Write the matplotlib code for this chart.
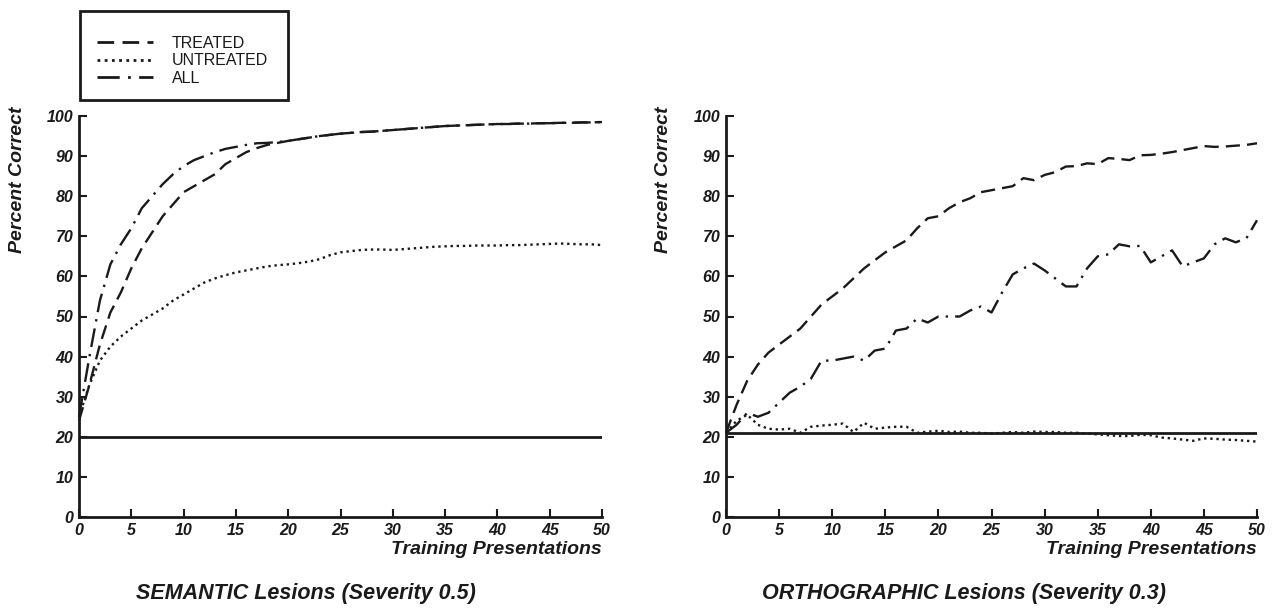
import numpy as np
import matplotlib
matplotlib.use("Agg")
import matplotlib.pyplot as plt
from matplotlib.lines import Line2D
from matplotlib.patches import Rectangle

plt.rcParams['font.family'] = ['Liberation Sans', 'DejaVu Sans']

# training presentations 0..50
x = list(range(51))

# SEMANTIC lesions (severity 0.5)
sem_treated = [24, 33, 43, 51, 56, 62, 67, 71, 75, 78, 81, 82.5, 84, 85.5, 88, 89.5, 91, 92, 92.8, 93.3,
               93.8, 94.2, 94.6, 95, 95.3, 95.6, 95.8, 96, 96.1, 96.3, 96.5, 96.7, 96.9, 97.1, 97.3, 97.5,
               97.6, 97.7, 97.8, 97.9, 98, 98, 98.1, 98.1, 98.2, 98.2, 98.3, 98.3, 98.4, 98.4, 98.5]
sem_untreated = [25, 33, 39, 42.5, 45, 47, 49, 50.5, 52, 54, 55.5, 57, 58.5, 59.5, 60.3, 61, 61.5, 62, 62.5,
                 62.8, 63, 63.3, 63.7, 64.3, 65.3, 66, 66.3, 66.6, 66.7, 66.7, 66.6, 66.8, 67, 67.2, 67.4,
                 67.5, 67.6, 67.6, 67.7, 67.7, 67.7, 67.8, 67.8, 67.9, 68, 68.1, 68.2, 68.1, 68, 68, 67.8]
sem_all = [25, 40, 54, 63, 68, 72, 77, 80, 83, 85.5, 87.5, 89, 90, 91, 91.8, 92.3, 92.8, 93.2, 93.3, 93.5,
           93.8, 94.2, 94.6, 95, 95.3, 95.6, 95.8, 96, 96.1, 96.3, 96.5, 96.7, 96.9, 97.1, 97.3, 97.5,
           97.6, 97.7, 97.8, 97.9, 98, 98, 98.1, 98.1, 98.2, 98.2, 98.3, 98.3, 98.4, 98.4, 98.5]
sem_chance = 20

# ORTHOGRAPHIC lesions (severity 0.3)
orth_treated = [21, 28, 34, 38, 41, 43, 45, 47, 50, 53, 55, 57, 59.5, 62, 64, 66, 67.5, 69, 72, 74.5,
                75, 77, 78.5, 79.5, 81, 81.5, 82, 82.5, 84.5, 84, 85.3, 86, 87.4, 87.5, 88.2, 88, 89.5,
                89.3, 89, 90.2, 90.3, 90.6, 91, 91.5, 92, 92.5, 92.3, 92.4, 92.6, 92.8, 93.2]
orth_untreated = [21, 24, 25.5, 23, 22, 21.8, 22, 21, 22.5, 22.8, 23, 23.3, 21.2, 23.5, 22, 22.3, 22.5,
                  22.5, 21, 21.3, 21.5, 21.2, 21.3, 21, 21, 20.8, 21, 21.2, 21, 21.3, 21.2, 21.2, 21, 21,
                  20.8, 20.6, 20.4, 20.2, 20.2, 20.5, 20.4, 19.8, 19.6, 19.3, 19, 19.6, 19.5, 19.3, 19.2,
                  19, 18.8]
orth_all = [21, 23, 26, 25, 26, 28.5, 31, 32.5, 34.5, 39, 39, 39.5, 40, 39, 41.5, 42, 46.5, 47, 49.5,
            48.5, 50, 50, 50, 51.5, 52.5, 51, 56, 60.5, 62, 63.2, 61.5, 59.5, 57.5, 57.5, 62, 65, 65.5,
            68, 67.5, 67.6, 63.5, 65, 66.5, 62.5, 63.5, 64.5, 68, 69.5, 68.5, 69.5, 74]
orth_chance = 21

xticks = [0, 5, 10, 15, 20, 25, 30, 35, 40, 45, 50]
yticks = [0, 10, 20, 30, 40, 50, 60, 70, 80, 90, 100]

ink = '#1a1a1a'
dash_treated = (0, (6, 3))
dash_untreated = (0, (1, 1.6))
dash_all = (0, (8, 3, 1, 3))

W, H = 1273, 611
fig = plt.figure(figsize=(W / 100, H / 100), dpi=100)
fig.patch.set_facecolor('white')

tick_font = dict(family=['Liberation Sans', 'DejaVu Sans'], weight='bold', style='italic', size=11.5)


def make_panel(left_px, right_px, treated, untreated, allv, chance):
    ax = fig.add_axes([left_px / W, (H - 517) / H, (right_px - left_px) / W, (517 - 116) / H])
    ax.plot(x, treated, color=ink, lw=1.7, linestyle=dash_treated, clip_on=False)
    ax.plot(x, untreated, color=ink, lw=1.7, linestyle=dash_untreated, clip_on=False)
    ax.plot(x, allv, color=ink, lw=1.7, linestyle=dash_all, clip_on=False)
    ax.plot([0, 50], [chance, chance], color=ink, lw=2)
    ax.set_xlim(0, 50)
    ax.set_ylim(0, 100)
    ax.set_xticks(xticks)
    ax.set_yticks(yticks)
    ax.set_xticklabels([str(v) for v in xticks], fontdict=tick_font)
    ax.set_yticklabels([str(v) for v in yticks], fontdict=tick_font)
    ax.tick_params(direction='in', length=6, width=1.5, colors=ink, pad=4)
    for s in ['top', 'right']:
        ax.spines[s].set_visible(False)
    for s in ['left', 'bottom']:
        ax.spines[s].set_linewidth(2)
        ax.spines[s].set_color(ink)
    ax.set_xlabel('Training Presentations', fontsize=14, fontweight='bold', style='italic',
                  color=ink, ha='right')
    ax.xaxis.set_label_coords(1.0, -0.06)
    ax.patch.set_alpha(0)
    return ax


ax1 = make_panel(79, 602, sem_treated, sem_untreated, sem_all, sem_chance)
ax2 = make_panel(726, 1257, orth_treated, orth_untreated, orth_all, orth_chance)

# y labels sit high, near the top of the axis
for xp in [18, 664]:
    fig.text(xp / W, 1 - 180 / H, 'Percent Correct', rotation=90, ha='center', va='center',
             fontsize=14, fontweight='bold', style='italic', color=ink)

fig.text(136 / W, 1 - 594 / H, 'SEMANTIC Lesions (Severity 0.5)', ha='left', va='center',
         fontsize=15.5, fontweight='bold', style='italic', color=ink)
fig.text(1166 / W, 1 - 594 / H, 'ORTHOGRAPHIC Lesions (Severity 0.3)', ha='right', va='center',
         fontsize=15.5, fontweight='bold', style='italic', color=ink)

# legend box drawn separately so the entries can sit a bit low inside it
fig.patches.append(Rectangle((80 / W, 1 - 100 / H), 208 / W, 89 / H, transform=fig.transFigure,
                             fill=False, edgecolor=ink, lw=2))
handles = [Line2D([], [], color=ink, lw=2, linestyle=dash_treated),
           Line2D([], [], color=ink, lw=2, linestyle=dash_untreated),
           Line2D([], [], color=ink, lw=2, linestyle=dash_all)]
leg = fig.legend(handles, ['TREATED', 'UNTREATED', 'ALL'], loc='upper left',
                 bbox_to_anchor=(92 / W, 1 - 31 / H), borderaxespad=0, frameon=False,
                 prop=dict(size=11.5), handlelength=3.5, handletextpad=1.2, borderpad=0.3,
                 labelspacing=0.15)
for t in leg.get_texts():
    t.set_color(ink)

fig.savefig('out.png', dpi=100, facecolor='white')
